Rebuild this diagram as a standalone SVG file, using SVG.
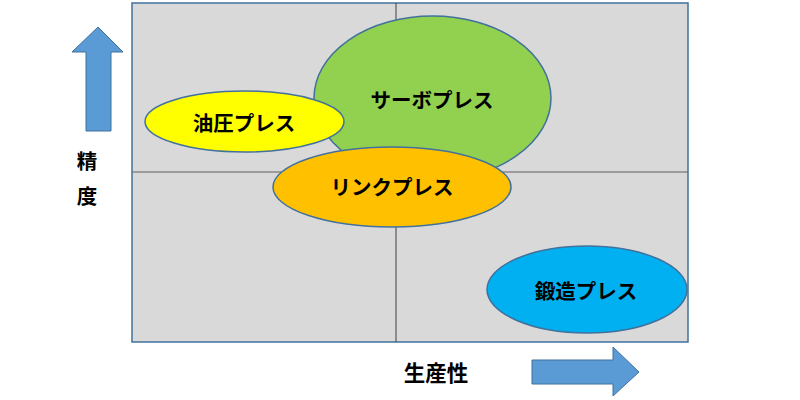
<svg xmlns="http://www.w3.org/2000/svg" width="800" height="400" viewBox="0 0 800 400">
<style>
.e{stroke:#41719c;stroke-width:1.5}
.t{font-family:"Noto Sans CJK JP","Noto Sans",sans-serif;font-weight:bold;font-size:20.5px;fill:#000;text-anchor:middle;dominant-baseline:central}
.arr{fill:#5b9bd5;stroke:#41719c;stroke-width:1}
</style>
<rect width="800" height="400" fill="#fff"/>
<g id="chart">
<rect x="132" y="3" width="556" height="339" fill="#d9d9d9" stroke="#41719c" stroke-width="1.5"/>
<line x1="396" y1="3" x2="396" y2="342" stroke="#404040" stroke-width="1"/>
<line x1="132" y1="172" x2="688" y2="172" stroke="#606060" stroke-width="1.2"/>
</g>
<g id="servo">
<ellipse class="e" cx="432.5" cy="98" rx="118.5" ry="82" fill="#92d050"/>
<text class="t" x="432" y="99">サーボプレス</text>
</g>
<g id="hydraulic">
<ellipse class="e" cx="244.5" cy="121.5" rx="99.5" ry="30.5" fill="#ffff00"/>
<text class="t" x="244" y="122">油圧プレス</text>
</g>
<g id="link">
<ellipse class="e" cx="392" cy="187" rx="119" ry="40" fill="#ffc000"/>
<text class="t" x="392" y="186">リンクプレス</text>
</g>
<g id="forging">
<ellipse class="e" cx="587" cy="289.5" rx="100" ry="43.5" fill="#00b0f0"/>
<text class="t" x="586" y="290">鍛造プレス</text>
</g>
<g id="yaxis">
<polygon class="arr" points="98,27 123,52 111,52 111,131 86,131 86,52 72,52"/>
<text class="t" x="87" y="160">精</text>
<text class="t" x="87" y="195">度</text>
</g>
<g id="xaxis">
<polygon class="arr" points="532,360 613,360 613,347 639,372 613,396 613,384 532,384"/>
<text class="t" x="436" y="371" style="font-size:21.5px">生産性</text>
</g>
</svg>
